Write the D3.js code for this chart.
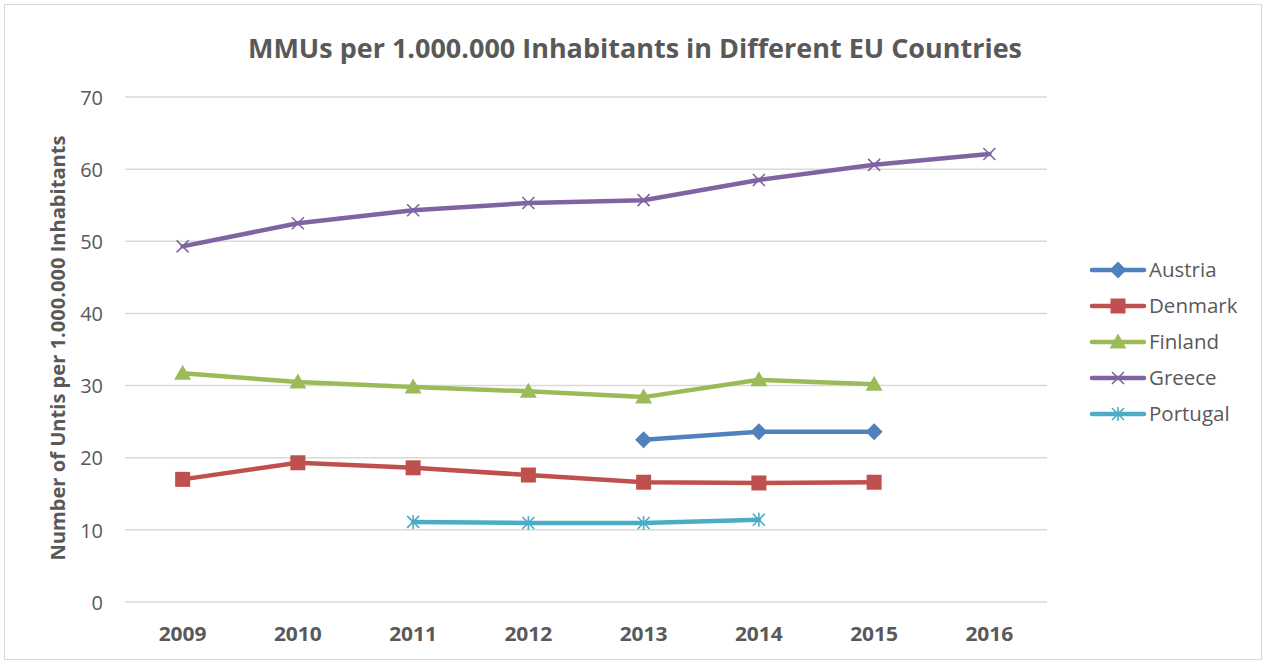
<!DOCTYPE html>
<html><head><meta charset="utf-8">
<script src="https://cdn.jsdelivr.net/npm/d3@7"></script>
<style>body{margin:0;background:#fff}svg{display:block}text{font-family:"Open Sans",sans-serif;fill:#595959}</style>
</head><body><svg id="c" width="1266" height="662"></svg>
<script>
const years = ["2009","2010","2011","2012","2013","2014","2015","2016"];
const austria  = [null,null,null,null,22.5,23.6,23.6,null];
const denmark  = [17.0,19.3,18.6,17.6,16.6,16.5,16.6,null];
const finland  = [31.7,30.5,29.8,29.2,28.4,30.8,30.2,null];
const greece   = [49.3,52.5,54.3,55.3,55.7,58.5,60.6,62.1];
const portugal = [null,null,11.1,10.95,10.95,11.4,null,null];
const yTicks = [0,10,20,30,40,50,60,70];
const series = [
  {name:"Austria", values:austria, color:"#4F81BD", marker:"diamond"},
  {name:"Denmark", values:denmark, color:"#C0504D", marker:"square"},
  {name:"Finland", values:finland, color:"#9BBB59", marker:"triangle"},
  {name:"Greece", values:greece, color:"#8064A2", marker:"x"},
  {name:"Portugal", values:portugal, color:"#4BACC6", marker:"star"}
];

const svg = d3.select("#c");
svg.append("rect").attr("x",4.5).attr("y",4.5).attr("width",1257).attr("height",655)
  .attr("fill","#fff").attr("stroke","#D9D9D9");

const x = d3.scaleBand().domain(years).range([125,1047]);
const y = d3.scaleLinear().domain([0,70]).range([602,97]);

// grid
svg.append("g").selectAll("line").data(yTicks).join("line")
  .attr("x1",125).attr("x2",1047).attr("y1",d=>y(d)).attr("y2",d=>y(d))
  .attr("stroke","#D9D9D9").attr("stroke-width",1.5);

// y axis
const ya = svg.append("g").attr("transform","translate(103,0)")
  .call(d3.axisLeft(y).tickValues(yTicks).tickSize(0).tickPadding(0));
ya.select(".domain").remove();
ya.selectAll("text").attr("font-size",20).attr("fill","#595959").attr("dy","0.36em")
  .style("font-family","'Open Sans',sans-serif");

// x axis
const xa = svg.append("g").attr("transform","translate(0,634)")
  .call(d3.axisBottom(x).tickSize(0).tickPadding(0));
xa.select(".domain").remove();
xa.selectAll("text").attr("font-size",19).attr("font-weight","bold").attr("fill","#595959")
  .attr("dy","0.36em").attr("textLength",48).attr("lengthAdjust","spacingAndGlyphs")
  .style("font-family","'Open Sans',sans-serif");

// title
svg.append("text").attr("x",635).attr("y",58).attr("text-anchor","middle")
  .attr("font-size",27).attr("font-weight","bold").attr("textLength",774).attr("lengthAdjust","spacingAndGlyphs")
  .text("MMUs per 1.000.000 Inhabitants in Different EU Countries");

// y title
svg.append("text").attr("transform","translate(65,348) rotate(-90)").attr("text-anchor","middle")
  .attr("font-size",19).attr("font-weight","bold").attr("textLength",425).attr("lengthAdjust","spacingAndGlyphs")
  .text("Number of Untis per 1.000.000 Inhabitants");

function drawMarker(g, type, color){
  if(type==="diamond"){
    g.append("path").attr("d","M0,-8.5L8.5,0L0,8.5L-8.5,0Z").attr("fill",color);
  } else if(type==="square"){
    g.append("rect").attr("x",-7.5).attr("y",-7.5).attr("width",15).attr("height",15).attr("fill",color);
  } else if(type==="triangle"){
    g.append("path").attr("d","M0,-8.5L8.5,6.5L-8.5,6.5Z").attr("fill",color);
  } else if(type==="x"){
    g.append("path").attr("d","M-6,-6L6,6M-6,6L6,-6").attr("stroke",color).attr("stroke-width",1.6).attr("fill","none");
  } else if(type==="star"){
    g.append("path").attr("d","M-6,-6L6,6M-6,6L6,-6M0,-7L0,7").attr("stroke",color).attr("stroke-width",1.6).attr("fill","none");
  }
}

const line = d3.line().defined(d=>d.v!=null).x(d=>x(d.k)+x.bandwidth()/2).y(d=>y(d.v));
series.forEach(s=>{
  const pts = years.map((k,i)=>({k, v:s.values[i]}));
  svg.append("path").datum(pts).attr("d",line).attr("fill","none")
    .attr("stroke",s.color).attr("stroke-width",4.5).attr("stroke-linejoin","round").attr("stroke-linecap","round");
  pts.filter(d=>d.v!=null).forEach(d=>{
    const g = svg.append("g").attr("transform",`translate(${x(d.k)+x.bandwidth()/2},${y(d.v)})`);
    drawMarker(g, s.marker, s.color);
  });
});

// legend
const leg = svg.append("g");
series.forEach((s,i)=>{
  const ly = 270 + i*36;
  leg.append("line").attr("x1",1092).attr("x2",1144).attr("y1",ly).attr("y2",ly)
    .attr("stroke",s.color).attr("stroke-width",4.5).attr("stroke-linecap","round");
  drawMarker(leg.append("g").attr("transform",`translate(1118,${ly})`), s.marker, s.color);
  leg.append("text").attr("x",1149).attr("y",ly).attr("dy","0.36em").attr("font-size",20.5).text(s.name);
});
</script></body></html>
